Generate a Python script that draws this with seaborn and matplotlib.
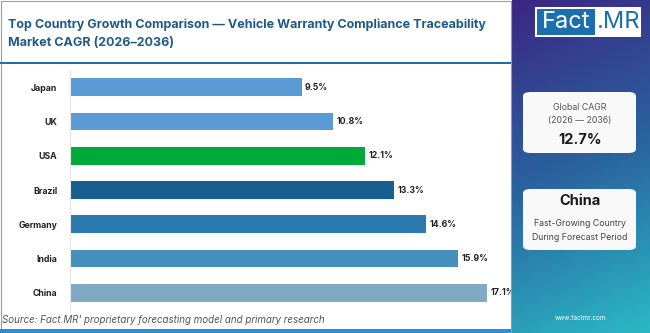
import numpy as np
import pandas as pd
import matplotlib
matplotlib.use("Agg")
import matplotlib.pyplot as plt
from matplotlib.patches import Rectangle, FancyBboxPatch
from matplotlib.colors import LinearSegmentedColormap
import seaborn as sns

countries = ["Japan", "UK", "USA", "Brazil", "Germany", "India", "China"]
cagr = [9.5, 10.8, 12.1, 13.3, 14.6, 15.9, 17.1]
bar_colors = ["#5b9bd5", "#5b9bd5", "#00aa3a", "#175f8f", "#2a7ab0", "#4590bd", "#80a9c3"]
title_lines = ["Top Country Growth Comparison \u2014 Vehicle Warranty Compliance Traceability",
               "Market CAGR (2026\u20132036)"]
source = "Source: Fact.MR' proprietary forecasting model and primary research"
global_cagr = "12.7%"
top_country = "China"

sns.set_theme(style="white")
plt.rcParams["font.family"] = ["Inter", "DejaVu Sans"]

W, H = 650, 333
fig = plt.figure(figsize=(W / 100, H / 100), dpi=100)
fig.patch.set_facecolor("white")

def px(x0, y0, w, h):
    return [x0 / W, 1 - (y0 + h) / H, w / W, h / H]

# left panel frame
fig.patches.append(Rectangle((1 / W, 1 / H), 510 / W, 331 / H, transform=fig.transFigure,
                             fill=False, edgecolor="#9a9a9a", lw=0.8, zorder=0))
fig.patches.append(Rectangle((0, 1 - 64 / H), 511 / W, 2 / H, transform=fig.transFigure,
                             facecolor="#1f6fae", edgecolor="none"))
fig.patches.append(Rectangle((0, 0), 511 / W, 4 / H, transform=fig.transFigure,
                             facecolor="#2a8fd0", edgecolor="none"))

for k, line in enumerate(title_lines):
    fig.text(8 / W, 1 - (25 + 18 * k) / H, line, fontsize=9.0, fontweight="bold",
             color="#1d5a8c", ha="left", va="center")

# bar chart
df = pd.DataFrame({"country": countries, "cagr": cagr})
ax = fig.add_axes(px(69.7, 70, 435, 240))
sns.barplot(data=df, x="cagr", y="country", hue="country", palette=dict(zip(countries, bar_colors)),
            order=countries, legend=False, width=0.52, saturation=1, ax=ax, edgecolor="none")
ax.set_xlim(0, 435 / 24.42)
ax.set_ylim(6.5, -0.5)
ax.set_xlabel("")
ax.set_ylabel("")
ax.set_xticks([])
ax.tick_params(axis="y", length=0, pad=9, labelsize=6.3, labelcolor="#222222")
for lab in ax.get_yticklabels():
    lab.set_fontweight("bold")
for s in ["top", "right", "bottom"]:
    ax.spines[s].set_visible(False)
ax.spines["left"].set_color("#e6e6e6")
ax.spines["left"].set_linewidth(0.8)
ax.set_facecolor("none")
for i, v in enumerate(cagr):
    ax.text(v + 0.13, i, f"{v}%", va="center", ha="left", fontsize=6.3,
            fontweight="bold", color="#222222")

fig.text(2 / W, 1 - 323 / H, source, fontsize=7, style="italic", color="#555555",
         ha="left", va="baseline")

# right panel gradient
rax = fig.add_axes(px(512, 0, 138, 333))
cmap = LinearSegmentedColormap.from_list("side", ["#3b2783", "#2a63a0", "#2bb9c4"])
yy, xx = np.mgrid[0:1:200j, 0:1:60j]
grad = yy * 0.85 + xx * 0.15
rax.imshow(grad, cmap=cmap, aspect="auto", extent=[0, 1, 1, 0])
rax.set_xlim(0, 1)
rax.set_ylim(1, 0)
rax.axis("off")

# logo
fig.patches.append(Rectangle((535 / W, 1 - 37 / H), 106 / W, 30 / H, transform=fig.transFigure,
                             facecolor="white", edgecolor="none"))
fig.patches.append(Rectangle((537 / W, 1 - 35 / H), 58 / W, 26 / H, transform=fig.transFigure,
                             facecolor="#1b6fae", edgecolor="none"))
fig.text(566 / W, 1 - 22 / H, "Fact", fontsize=17, color="white", ha="center", va="center")
fig.text(618 / W, 1 - 22 / H, ".MR", fontsize=17, color="#1b6fae", ha="center", va="center")

# cards
for y0, h in [(92, 61), (189, 61)]:
    fig.patches.append(FancyBboxPatch((523 / W, 1 - (y0 + h) / H), 113 / W, h / H,
                                      boxstyle="round,pad=0,rounding_size=0.012",
                                      transform=fig.transFigure, facecolor="#f9f9f9",
                                      edgecolor="none"))
cx = 580 / W
fig.text(cx, 1 - 107 / H, "Global CAGR", fontsize=6.3, color="#555555", ha="center", va="center")
fig.text(cx, 1 - 120 / H, "(2026 \u2014 2036)", fontsize=6.3, color="#555555", ha="center", va="center")
fig.text(cx, 1 - 140 / H, global_cagr, fontsize=10.5, fontweight="bold", color="#1a1a1a",
         ha="center", va="center")
fig.text(cx, 1 - 201 / H, top_country, fontsize=10.5, fontweight="bold", color="#1a1a1a",
         ha="center", va="center")
fig.text(cx, 1 - 224 / H, "Fast-Growing Country", fontsize=6.3, color="#444444", ha="center", va="center")
fig.text(cx, 1 - 237 / H, "During Forecast Period", fontsize=6.3, color="#444444", ha="center", va="center")
fig.text(cx, 1 - 318 / H, "www.factmr.com", fontsize=4.5, color="white", ha="center", va="center")

fig.savefig("out.png", dpi=100)
